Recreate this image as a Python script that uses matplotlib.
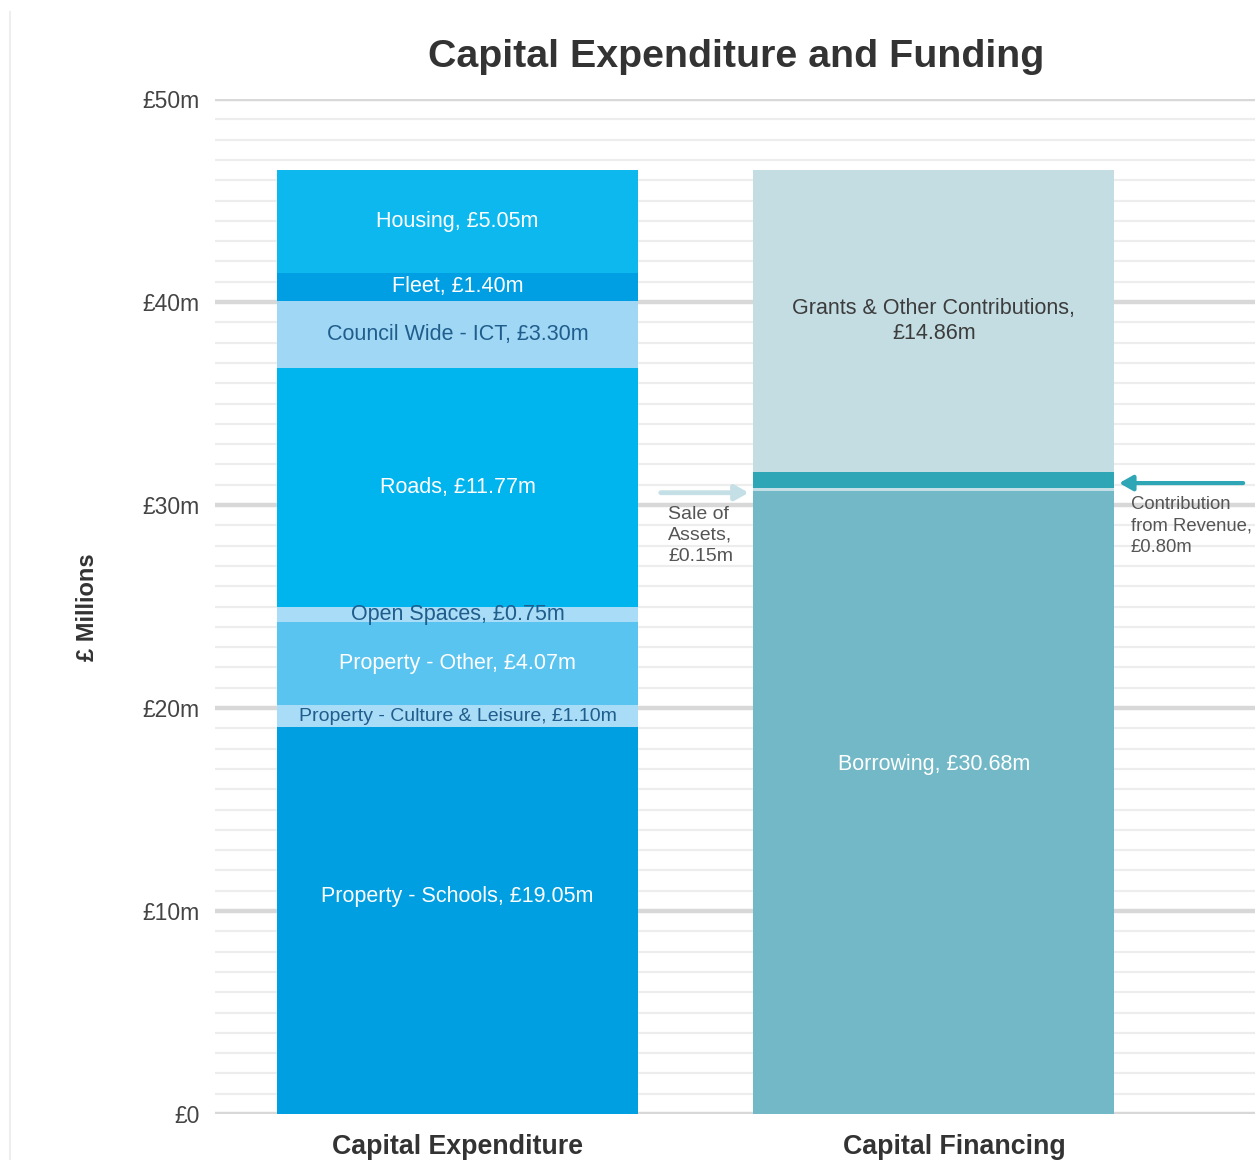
import matplotlib
matplotlib.use('Agg')
import matplotlib.pyplot as plt
from matplotlib.lines import Line2D
import numpy as np

plt.rcParams['font.family'] = ['Liberation Sans', 'DejaVu Sans']

# expenditure, bottom to top
exp_names = ["Property - Schools", "Property - Culture & Leisure", "Property - Other",
             "Open Spaces", "Roads", "Council Wide - ICT", "Fleet", "Housing"]
exp_values = [19.05, 1.10, 4.07, 0.75, 11.77, 3.30, 1.40, 5.05]
exp_colors = ["#009fe1", "#a9dcf6", "#5ac4f0", "#a9dcf6", "#00b4ed", "#a0d7f5", "#009fe3", "#0cb8ee"]
exp_text = ["white", "#1f5d8c", "white", "#1f5d8c", "white", "#1f5d8c", "white", "white"]

# financing, bottom to top
fin_names = ["Borrowing", "Sale of Assets", "Contribution from Revenue", "Grants & Other Contributions"]
fin_values = [30.68, 0.15, 0.80, 14.86]
fin_colors = ["#72b8c6", "#c4dfe5", "#2fa6b5", "#c3dde3"]

categories = ["Capital Expenditure", "Capital Financing"]
y_ticks = [0, 10, 20, 30, 40, 50]
y_tick_labels = ["£0", "£10m", "£20m", "£30m", "£40m", "£50m"]

# labels that sit off-centre in the original
label_nudge = {"Property - Schools": 1.2, "Borrowing": 1.9}
# long labels need a smaller size to stay within the bar
label_size = {"Property - Culture & Leisure": 14}

fig = plt.figure(figsize=(12.55, 11.6), dpi=100)
ax = fig.add_axes([215 / 1255, 46 / 1160, 1040 / 1255, 1015 / 1160])
ax.set_xlim(-0.509, 1.674)
ax.set_ylim(0, 50)

# grid
for v in np.arange(1, 50):
    if v % 10:
        ax.axhline(v, color="#ededed", lw=1.6, zorder=0)
for v in y_ticks:
    ax.axhline(v, color="#d8d8d8", lw=3.2, zorder=0.5)

width = 0.758
seg_fs = 15.5

bottom = 0
for name, val, col, tc in zip(exp_names, exp_values, exp_colors, exp_text):
    ax.bar(0, val, width=width, bottom=bottom, color=col, zorder=2)
    y = bottom + val / 2 + label_nudge.get(name, 0)
    ax.text(0, y, f"{name}, £{val:.2f}m", ha="center", va="center",
            color=tc, fontsize=label_size.get(name, seg_fs), zorder=3)
    bottom += val

bottom = 0
fin_bottoms = []
for name, val, col in zip(fin_names, fin_values, fin_colors):
    ax.bar(1, val, width=width, bottom=bottom, color=col, zorder=2)
    fin_bottoms.append(bottom)
    bottom += val

# labels inside financing bar
b = fin_bottoms[0] + fin_values[0] / 2 + label_nudge.get("Borrowing", 0)
ax.text(1, b, f"Borrowing, £{fin_values[0]:.2f}m", ha="center", va="center",
        color="white", fontsize=seg_fs, zorder=3)
g = fin_bottoms[3] + fin_values[3] / 2
ax.text(1, g, f"Grants & Other Contributions,\n£{fin_values[3]:.2f}m", ha="center",
        va="center", color="#3c3c3c", fontsize=seg_fs, linespacing=1.2, zorder=3)

# callouts for the thin bands
ys = fin_bottoms[1] + fin_values[1] / 2 - 0.15
ax.annotate("", xy=(0.617, ys), xytext=(0.421, ys),
            arrowprops=dict(arrowstyle="-|>,head_length=0.8,head_width=0.45",
                            color="#c4dfe5", lw=3.5), zorder=3)
ax.text(0.442, ys - 0.65, f"Sale of\nAssets,\n£{fin_values[1]:.2f}m", ha="left", va="top",
        color="#555555", fontsize=14, linespacing=1.3)

yc = fin_bottoms[2] + fin_values[2] / 2 - 0.15
ax.annotate("", xy=(1.383, yc), xytext=(1.655, yc),
            arrowprops=dict(arrowstyle="-|>,head_length=0.8,head_width=0.45",
                            color="#2fa6b5", lw=3), zorder=3)
ax.text(1.413, yc - 0.65, f"Contribution\nfrom Revenue,\n£{fin_values[2]:.2f}m", ha="left",
        va="top", color="#555555", fontsize=13.3, linespacing=1.35, clip_on=False)

ax.set_yticks(y_ticks)
ax.set_yticklabels(y_tick_labels, fontsize=16.5, color="#444444")
ax.tick_params(axis="y", length=0, pad=11)
ax.set_xticks([])
for s in ax.spines.values():
    s.set_visible(False)

fig.text(457 / 1255, 1 - 1147 / 1160, categories[0], ha="center", va="center",
         fontsize=19.3, fontweight="bold", color="#333333")
fig.text(954 / 1255, 1 - 1147 / 1160, categories[1], ha="center", va="center",
         fontsize=19.3, fontweight="bold", color="#333333")

fig.text(736 / 1255, 1 - 57 / 1160, "Capital Expenditure and Funding", ha="center",
         va="center", fontsize=28.4, fontweight="bold", color="#333333")
fig.text(88 / 1255, 1 - 607 / 1160, "£ Millions", rotation=90, ha="center", va="center",
         fontsize=17, fontweight="bold", color="#333333")

# faint page edge on the left
fig.add_artist(Line2D([10 / 1255, 10 / 1255], [0, 1 - 12 / 1160], color="#eeeeee", lw=1.5))

fig.savefig("out.png", dpi=100)
